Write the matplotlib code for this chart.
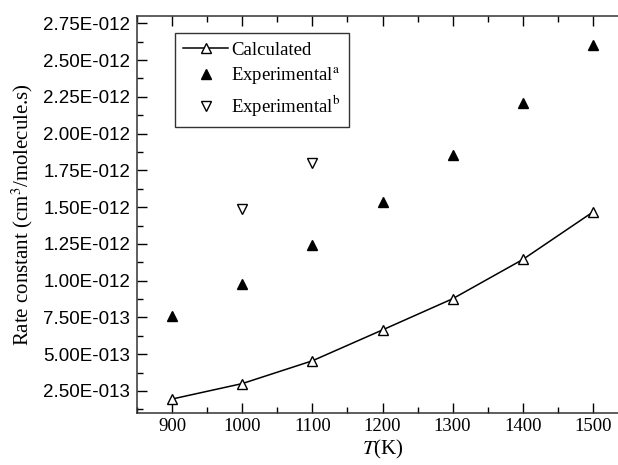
import matplotlib
matplotlib.use('Agg')
import matplotlib.pyplot as plt
from matplotlib.ticker import FuncFormatter, MultipleLocator

temps = [900, 1000, 1100, 1200, 1300, 1400, 1500]
calculated = [1.95e-13, 3.0e-13, 4.55e-13, 6.65e-13, 8.77e-13, 1.144e-12, 1.467e-12]

temps_a = [900, 1000, 1100, 1200, 1300, 1400, 1500]
experimental_a = [7.62e-13, 9.8e-13, 1.245e-12, 1.535e-12, 1.858e-12, 2.21e-12, 2.60e-12]

temps_b = [1000, 1100]
experimental_b = [1.49e-12, 1.80e-12]

plt.rcParams['mathtext.fontset'] = 'stix'
serif = 'Liberation Serif'
sans = 'Liberation Sans'


def sci_fmt(v, pos):
    s = '%.2E' % v
    mant, exp = s.split('E')
    sign = exp[0]
    return '%sE%s%03d' % (mant, sign, abs(int(exp)))


fig = plt.figure(figsize=(6.18, 4.65), dpi=100)
# right edge of the axes runs past the image edge, as in the original
ax = fig.add_axes([137 / 618, 1 - 413 / 465, (628 - 137) / 618, (413 - 16) / 465])

ax.plot(temps, calculated, '-', color='black', lw=1.1, marker='^', ms=7.5,
        mfc='white', mec='black', mew=1.0, label='Calculated')
ax.plot(temps_a, experimental_a, linestyle='none', marker='^', ms=7.5,
        color='black', label='Experimental$^\\mathrm{a}$')
ax.plot(temps_b, experimental_b, linestyle='none', marker='v', ms=7.5,
        mfc='white', mec='black', mew=1.0, label='Experimental$^\\mathrm{b}$')

ax.set_xlim(850, 1550)
ax.set_ylim(1.0e-13, 2.8e-12)
ax.xaxis.set_major_locator(MultipleLocator(100))
ax.xaxis.set_minor_locator(MultipleLocator(50))
ax.yaxis.set_major_locator(MultipleLocator(2.5e-13))
ax.yaxis.set_minor_locator(MultipleLocator(1.25e-13))
ax.yaxis.set_major_formatter(FuncFormatter(sci_fmt))
ax.set_yticks([2.5e-13 * i for i in range(1, 12)])

ax.tick_params(which='both', direction='in', top=True, right=False)
ax.tick_params(which='major', length=7, width=1)
ax.tick_params(which='minor', length=4, width=1)
ax.tick_params(axis='y', pad=5)
for lab in ax.get_xticklabels():
    lab.set_fontfamily(serif)
    lab.set_fontsize(13.5)
for lab in ax.get_yticklabels():
    lab.set_fontfamily(sans)
    lab.set_fontsize(13.5)
for sp in ax.spines.values():
    sp.set_linewidth(1.1)
    sp.set_color('#333333')

ax.set_xlabel('$T$(K)', fontfamily=serif, fontsize=15, labelpad=2)
ax.set_ylabel('Rate constant (cm$^3$/molecule.s)', fontfamily=serif, fontsize=15,
              labelpad=6)

leg = ax.legend(loc='upper left', bbox_to_anchor=(175 / 618, 1 - 33 / 465),
                bbox_transform=fig.transFigure, prop={'family': serif, 'size': 13.5},
                frameon=True, fancybox=False, edgecolor='black', handlelength=2.4,
                borderpad=0.45, labelspacing=0.35, handletextpad=0.15,
                borderaxespad=0)
leg.get_frame().set_linewidth(1.0)

fig.savefig('out.png', dpi=100)
